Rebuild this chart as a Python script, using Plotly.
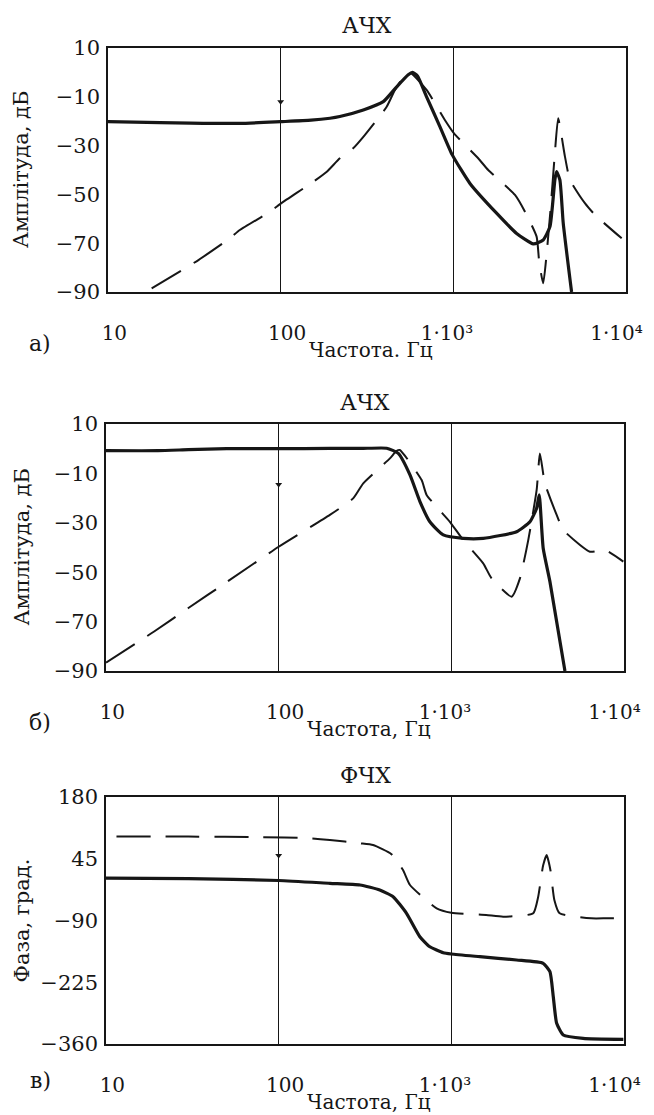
import plotly.graph_objects as go

# ---------------- data ----------------
# Chart a) AЧХ
a_solid_f = [10, 20, 30, 58, 100, 150, 193, 220, 301, 393, 470, 548, 580, 620, 700, 836, 986,
             1248, 1780, 2326, 2905, 3314, 3627, 3874, 3960, 4140, 4330, 4840]
a_solid_db = [-20.2, -20.6, -20.8, -20.9, -20.2, -19.6, -18.8, -18.1, -15.4, -12.0, -5.9, -1.0, 0.0, -1.5,
              -10.0, -22.2, -33.8, -45.5, -57.7, -66.0, -70.3, -68.7, -63.2, -44.0, -40.7, -44.0, -61.8, -90.0]

a_dash_f = [17.9, 27.9, 33.4, 50.8, 58, 86.7, 101, 154.6, 185, 220, 263, 307, 411, 459, 525, 560,
            700, 893, 1009, 1393, 1592, 2275, 2600, 3036, 3142, 3314, 3627, 3874, 4046, 4430, 4733,
            5780, 6610, 9440]
a_dash_db = [-88.5, -80.3, -76.9, -68.0, -64.6, -57.1, -53.6, -44.8, -40.7, -35.2, -31.1, -25.7, -14.1,
             -7.2, -1.1, 0.0, -7.2, -19.5, -25.0, -35.2, -40.0, -50.2, -57.1, -67.3, -77.6, -86.4,
             -59.0, -33.0, -18.8, -34.5, -44.0, -53.6, -58.4, -68.0]

# Chart б) AЧХ
b_solid_f = [10, 20, 30, 50, 100, 198, 300, 422, 493, 576, 658, 751, 898, 1172, 1530, 2389, 2853,
             3119, 3229, 3404, 3724, 4550]
b_solid_db = [-0.8, -0.8, -0.4, 0.0, 0.0, 0.1, 0.1, 0.2, -1.9, -10.6, -21.4, -29.6, -34.9, -36.3, -36.3,
              -33.6, -29.6, -24.1, -18.7, -40.3, -53.8, -90.0]

b_dash_f = [10, 19, 30, 50, 100, 198, 270, 309, 441, 480, 503, 673, 719, 981, 1172, 1530, 1710, 2233,
            2497, 2789, 3120, 3258, 3480, 4074, 4448, 6350, 7760, 9910]
b_dash_db = [-86.6, -74.0, -64.5, -54.0, -39.7, -26.8, -20.1, -14.0, -3.9, -1.0, -0.5, -12.7, -18.7,
             -29.6, -37.0, -46.4, -52.5, -59.9, -52.5, -37.0, -16.7, -1.9, -14.0, -26.8, -32.9, -41.7,
             -41.0, -45.7]

# Chart в) ФЧХ
c_solid_f = [10, 30, 100, 198, 296, 385, 460, 550, 657, 751, 898, 1000, 1462, 2388, 3404, 3724, 3894,
             4074, 4448, 5800, 9910]
c_solid_deg = [2.6, 1.5, -2.5, -8.7, -12.4, -23.3, -38.0, -74.3, -125.4, -147.3, -160.4, -163.2,
               -169.1, -176.4, -183.6, -201.9, -256.6, -314.8, -340.4, -347.6, -349.8]

c_dash_f = [11.5, 30, 80, 148, 198, 296, 352, 450, 525, 576, 822, 1000, 1590, 1996, 2980, 3185, 3400,
            3565, 3750, 3950, 4240, 6460, 7940, 9910]
c_dash_deg = [93.9, 93.5, 92.0, 90.2, 86.0, 78.8, 75.0, 55.0, 20.4, -12.4, -63.3, -73.0, -78.0, -81.7,
              -74.3, -38.0, 30.0, 53.0, 20.0, -45.0, -74.3, -85.2, -85.2, -85.2]

# small arrow marks on the 100 Hz grid line
arrow_f = [100, 100, 100]
arrow_v = [-12.0, -14.5, 52.0]

NB = "\u00a0"
x_tickvals = [10, 100, 1000, 10000]
x_ticktext = [NB + NB + "10", NB + NB + "100", "1·10³" + NB + NB, "1·10⁴" + NB + NB + NB]
amp_ticks = [10, -10, -30, -50, -70, -90]
phase_ticks = [180, 45, -90, -225, -360]

titles = ["АЧХ", "АЧХ", "ФЧХ"]
xlabels = ["Частота. Гц", "Частота, Гц", "Частота, Гц"]
ylabels = ["Амплітуда, дБ", "Амплітуда, дБ", "Фаза, град."]
panel_labels = ["а)", "б)", "в)"]

# ---------------- layout ----------------
PAGE_OFF = 8            # default body margin of the html page
W, H = 646, 1107        # figure size so that it ends at the window edges
FONT = "DejaVu Serif"
INK = "#161616"

boxes = [  # left, right, top, bottom in window pixels
    (108, 626, 48, 292),
    (106, 624, 424, 671),
    (106, 624, 797, 1044),
]


def px(x):
    return (x - PAGE_OFF) / W


def py(y):
    return 1 - (y - PAGE_OFF) / H


fig = go.Figure()

series = [
    (a_solid_f, a_solid_db, a_dash_f, a_dash_db),
    (b_solid_f, b_solid_db, b_dash_f, b_dash_db),
    (c_solid_f, c_solid_deg, c_dash_f, c_dash_deg),
]

for i, (sf, sv, df, dv) in enumerate(series):
    xa = "x" if i == 0 else f"x{i+1}"
    ya = "y" if i == 0 else f"y{i+1}"
    fig.add_trace(go.Scatter(x=df, y=dv, mode="lines", xaxis=xa, yaxis=ya,
                             line=dict(color=INK, width=2, dash="34px,15px",
                                       shape="spline", smoothing=0.5),
                             showlegend=False, hoverinfo="skip"))
    fig.add_trace(go.Scatter(x=sf, y=sv, mode="lines", xaxis=xa, yaxis=ya,
                             line=dict(color=INK, width=3.2, shape="spline", smoothing=0.5),
                             showlegend=False, hoverinfo="skip"))
    fig.add_trace(go.Scatter(x=[arrow_f[i]], y=[arrow_v[i]], mode="markers", xaxis=xa, yaxis=ya,
                             marker=dict(symbol="triangle-down", size=6, color=INK),
                             showlegend=False, hoverinfo="skip"))

layout = dict(
    template="none",
    width=W, height=H,
    margin=dict(l=0, r=0, t=0, b=0, pad=0),
    paper_bgcolor="white", plot_bgcolor="white",
    font=dict(family=FONT, size=21, color=INK),
    showlegend=False,
)

annotations = []
for i, (l, r, t, b) in enumerate(boxes):
    sfx = "" if i == 0 else str(i + 1)
    layout["xaxis" + sfx] = dict(
        domain=[px(l), px(r)], anchor="y" + sfx, type="log", range=[1, 4],
        tickvals=x_tickvals, ticktext=x_ticktext, ticks="",
        showgrid=True, gridcolor=INK, gridwidth=1,
        showline=True, mirror=True, linecolor=INK, linewidth=1.6,
        zeroline=False, automargin=False, ticklabelstandoff=22,
        ticklabeloverflow="allow",
        tickfont=dict(family=FONT, size=20, color=INK),
    )
    if i < 2:
        yr, yt = [-90, 10], amp_ticks
    else:
        yr, yt = [-360, 180], phase_ticks
    layout["yaxis" + sfx] = dict(
        domain=[py(b), py(t)], anchor="x" + sfx, range=yr,
        tickvals=yt, ticks="", showgrid=False, zeroline=False,
        showline=True, mirror=True, linecolor=INK, linewidth=1.6,
        automargin=False, ticklabelstandoff=2, ticklabeloverflow="allow",
        tickfont=dict(family=FONT, size=21, color=INK),
    )
    cx = (l + r) / 2
    annotations.append(dict(text=titles[i], x=px(cx), y=py(t - 22), xref="paper", yref="paper",
                            showarrow=False, xanchor="center", yanchor="middle",
                            font=dict(family=FONT, size=22, color=INK)))
    annotations.append(dict(text=xlabels[i], x=px(cx + 4), y=py(b + 58), xref="paper", yref="paper",
                            showarrow=False, xanchor="center", yanchor="middle",
                            font=dict(family=FONT, size=20, color=INK)))
    annotations.append(dict(text=ylabels[i], x=px(21), y=py((t + b) / 2), xref="paper", yref="paper",
                            showarrow=False, xanchor="center", yanchor="middle", textangle=-90,
                            font=dict(family=FONT, size=21, color=INK)))
    annotations.append(dict(text=panel_labels[i], x=px(40), y=py(b + (51 if i < 2 else 36)),
                            xref="paper", yref="paper",
                            showarrow=False, xanchor="center", yanchor="middle",
                            font=dict(family=FONT, size=22, color=INK)))

layout["annotations"] = annotations
fig.update_layout(**layout)

fig.write_html("out.html")
